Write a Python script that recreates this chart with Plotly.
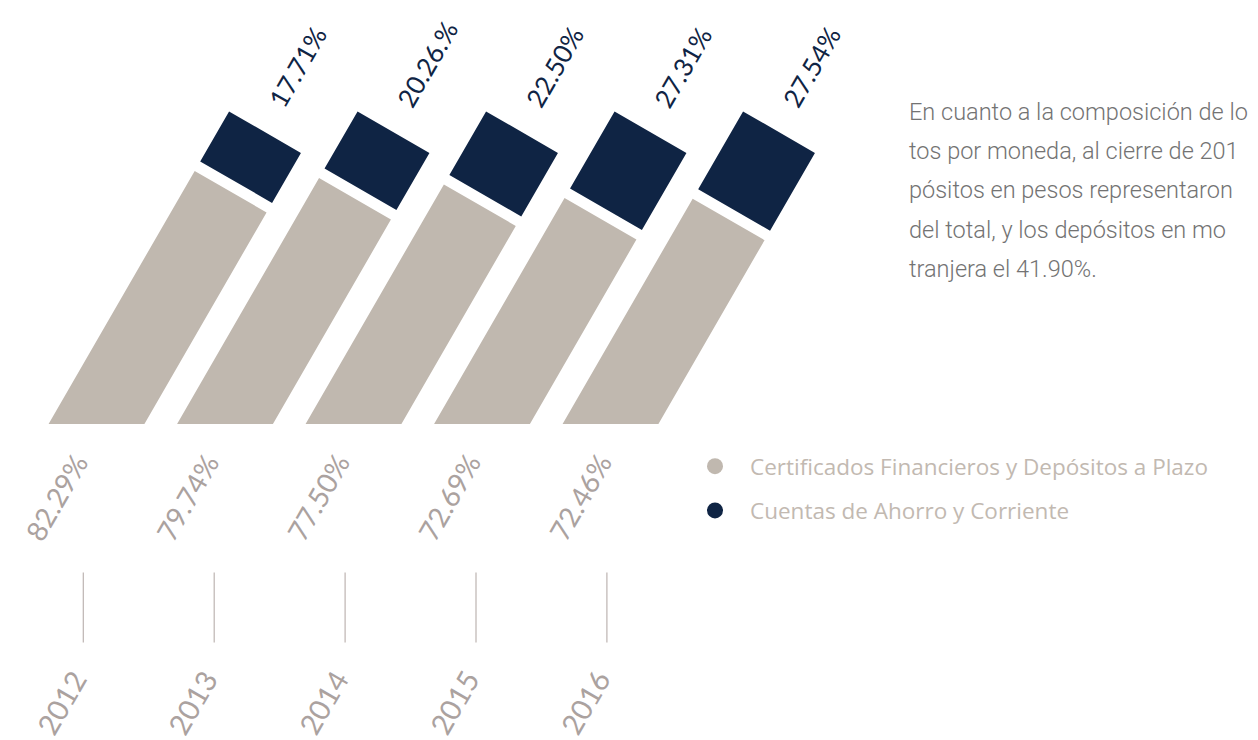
import math
import plotly.graph_objects as go

# ---------------- data ----------------
years = ["2012", "2013", "2014", "2015", "2016"]
certificados = [82.29, 79.74, 77.50, 72.69, 72.46]
cuentas = [17.71, 20.26, 22.50, 27.31, 27.54]
certificados_labels = ["82.29%", "79.74%", "77.50%", "72.69%", "72.46%"]
cuentas_labels = ["17.71%", "20.26.%", "22.50%", "27.31%", "27.54%"]
series_names = ["Certificados Financieros y Depósitos a Plazo",
                "Cuentas de Ahorro y Corriente"]
# visible part of the paragraph (cut by the right edge in the reference)
paragraph_lines = [
    "En cuanto a la composición de lo",
    "tos por moneda, al cierre de 201",
    "pósitos en pesos representaron",
    "del total, y los depósitos en mo",
    "tranjera el 41.90%.",
]

# ---------------- style / layout geometry ----------------
PAGE_W, PAGE_H = 1258, 740
OFF = 8                      # default page margin of the html body
W, H = PAGE_W - OFF, PAGE_H - OFF
BEIGE = "#c0b8af"
NAVY = "#0f2444"
LABEL_GRAY = "#aba29f"
TICK_GRAY = "#bdb4b1"
LEGEND_TXT = "#c2b9b1"
PARA_TXT = "#737373"

BASE_Y = 424                 # horizontal baseline that clips the bars
BAR0_X, BAR_STEP = 96.5, 128.5
TILT = math.radians(30)      # tilt of the bars from vertical
BAR_W = 83                   # bar thickness
GAP = 11                     # gap between stacked segments
FULL = 337                   # along-bar length representing 100 %
PX_PER_PCT = (FULL - GAP) / 100.0
TICK0_X, TICK_STEP = 83.3, 130.9

S, C = math.sin(TILT), math.cos(TILT)
HW = BAR_W / 2.0


def along(bx, s):
    return bx + s * S, BASE_Y - s * C


def perp(pt, k):
    return pt[0] + k * C, pt[1] + k * S


beige_x, beige_y, navy_x, navy_y = [], [], [], []
navy_tops = []
for i, (vb, vn) in enumerate(zip(certificados, cuentas)):
    bx = BAR0_X + BAR_STEP * i
    lb = vb * PX_PER_PCT
    ln = vn * PX_PER_PCT
    top = along(bx, lb)
    pts = [(bx - HW / C, BASE_Y), (bx + HW / C, BASE_Y), perp(top, HW), perp(top, -HW)]
    for p in pts + [pts[0]]:
        beige_x.append(p[0]); beige_y.append(p[1])
    beige_x.append(None); beige_y.append(None)

    s0 = lb + GAP
    s1 = s0 + ln
    b0, b1 = along(bx, s0), along(bx, s1)
    pts = [perp(b0, -HW), perp(b0, HW), perp(b1, HW), perp(b1, -HW)]
    for p in pts + [pts[0]]:
        navy_x.append(p[0]); navy_y.append(p[1])
    navy_x.append(None); navy_y.append(None)
    navy_tops.append(perp(b1, -HW))

fig = go.Figure()
fig.add_trace(go.Scatter(x=beige_x, y=beige_y, mode="lines", fill="toself",
                         fillcolor=BEIGE, line=dict(width=0, color=BEIGE),
                         hoverinfo="skip", showlegend=False))
fig.add_trace(go.Scatter(x=navy_x, y=navy_y, mode="lines", fill="toself",
                         fillcolor=NAVY, line=dict(width=0, color=NAVY),
                         hoverinfo="skip", showlegend=False))

# tick guide lines
tx, ty = [], []
for i in range(len(years)):
    x = TICK0_X + TICK_STEP * i
    tx += [x, x, None]
    ty += [572.5, 642.5, None]
fig.add_trace(go.Scatter(x=tx, y=ty, mode="lines", line=dict(color=TICK_GRAY, width=1.2),
                         hoverinfo="skip", showlegend=False))

# legend entries
for name, col, grp in zip(series_names, [BEIGE, NAVY], ["a", "b"]):
    fig.add_trace(go.Scatter(x=[None], y=[None], mode="markers", name=name,
                             legendgroup=grp,
                             marker=dict(size=20, color=col, symbol="circle")))

ann = []
LBL_FONT = "Lato"
for i, (yr, cl) in enumerate(zip(years, certificados_labels)):
    x = TICK0_X + TICK_STEP * i
    ann.append(dict(x=x - 27, y=497, text=cl, textangle=-60, showarrow=False,
                    xanchor="center", yanchor="middle",
                    font=dict(family=LBL_FONT, size=28, color=LABEL_GRAY, weight=400)))
    ann.append(dict(x=x - 22.5, y=702, text=yr, textangle=-60, showarrow=False,
                    xanchor="center", yanchor="middle",
                    font=dict(family=LBL_FONT, size=29, color=LABEL_GRAY, weight=400)))

for (px, py), lab in zip(navy_tops, cuentas_labels):
    ann.append(dict(x=px + 30, y=py + 4, text=lab, textangle=-60, showarrow=False,
                    xanchor="left", yanchor="bottom",
                    font=dict(family=LBL_FONT, size=26, color=NAVY, weight=400)))

for j, line in enumerate(paragraph_lines):
    ann.append(dict(x=906.5, y=122 + 39.2 * j - 10, text=line, showarrow=False,
                    xanchor="left", yanchor="middle", align="left",
                    font=dict(family="Roboto", size=23.5, color=PARA_TXT, weight=300)))

fig.update_layout(
    width=W, height=H,
    margin=dict(l=0, r=0, t=0, b=0),
    paper_bgcolor="white", plot_bgcolor="white",
    xaxis=dict(range=[OFF, PAGE_W], visible=False, fixedrange=True),
    yaxis=dict(range=[PAGE_H, OFF], visible=False, fixedrange=True),
    annotations=ann,
    showlegend=True,
    legend=dict(x=(680 - OFF) / W, y=1 - (445 - OFF) / H, xanchor="left", yanchor="top",
                font=dict(family="Open Sans", size=22.5, color=LEGEND_TXT),
                itemwidth=60, tracegroupgap=12, bgcolor="rgba(0,0,0,0)"),
)

fig.write_html("out.html")
